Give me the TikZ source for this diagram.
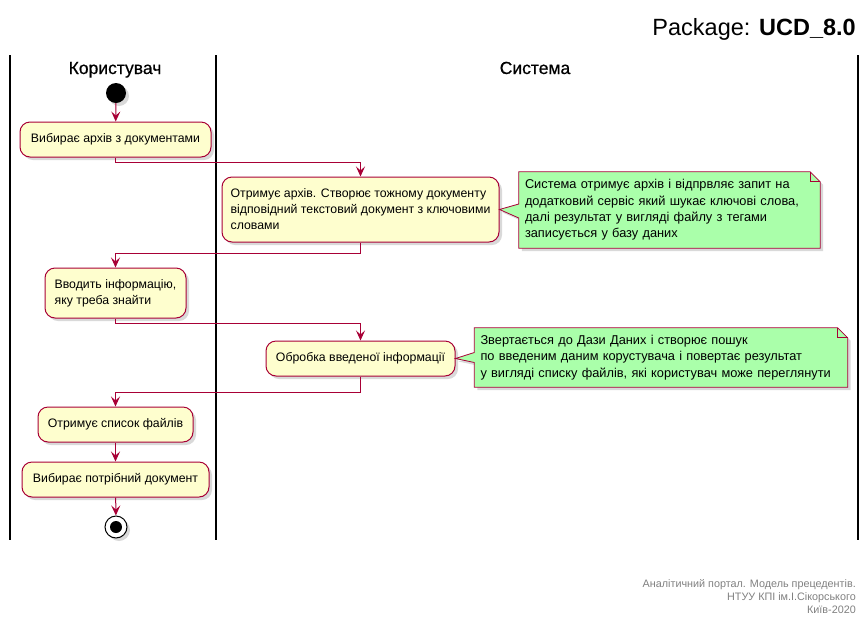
\documentclass[tikz,border=0pt]{standalone}
\usepackage{fontspec}
\setmainfont{Liberation Sans}
\newfontfamily\lanefont[FakeBold=0.6]{Liberation Sans}
\usetikzlibrary{arrows.meta,shadows,positioning,calc}

\definecolor{actfill}{HTML}{FEFECE}
\definecolor{actline}{HTML}{A80036}
\definecolor{notefill}{HTML}{AAFFAA}

\tikzset{
  shade/.style={drop shadow={opacity=0.3,shadow xshift=3pt,shadow yshift=-3pt}},
  act/.style={draw=actline,fill=actfill,rounded corners=10pt,line width=1pt,
    inner sep=0pt,font=\fontsize{12.3}{16}\selectfont,shade},
  flow/.style={color=actline,line width=1pt,-{Stealth[length=10pt,width=9pt,inset=4pt]}},
  note/.style={inner xsep=6pt,inner ysep=0pt,align=left,font=\fontsize{12.8}{16.3}\selectfont},
  notebox/.style={draw=actline,fill=notefill,line width=0.8pt,shade},
  lane/.style={line width=1.5pt},
  lanetitle/.style={anchor=base,font=\lanefont\fontsize{17.5}{20}\selectfont}
}

\begin{document}
\begin{tikzpicture}[x=1pt,y=-1pt]
            \useasboundingbox (0,0) rectangle (868,625);
            \node[anchor=base east,inner sep=0pt,font=\fontsize{23.5}{26}\selectfont] (title) at (856,35) {Package: \textbf{UCD\_8.0}};

            % swimlanes
            \draw[lane] (10,55) -- (10,540);
            \draw[lane] (216,55) -- (216,540);
            \draw[lane] (858,55) -- (858,540);
            \node[lanetitle] (user) at (115,74) {Користувач};
            \node[lanetitle] (system) at (535,74) {Система};

            \node[circle,fill=black,minimum size=20pt,inner sep=0pt,shade] (start) at (116,93) {};

            \node[act,minimum width=191pt,minimum height=35pt] (choose) at (115.5,139.5) {Вибирає архів з документами};
            \node[act,minimum width=277pt,minimum height=65pt,align=left] (archive) at (360.5,209.5)
              {Отримує архів. Створює тожному документу\\відповідний текстовий документ з ключовими\\словами};
            \node[act,minimum width=141pt,minimum height=50pt,align=left] (input) at (115.5,293)
              {Вводить інформацію,\\яку треба знайти};
            \node[act,minimum width=189pt,minimum height=35pt] (process) at (360.5,358.5) {Обробка введеної інформації};
            \node[act,minimum width=155pt,minimum height=35pt] (list) at (115.5,424.5) {Отримує список файлів};
            \node[act,minimum width=187pt,minimum height=35pt] (pick) at (115.5,479.5) {Вибирає потрібний документ};

            \node[circle,draw=black,fill=white,line width=1pt,minimum size=22pt,inner sep=0pt,shade] (stop) at (116,527) {};
            \node[circle,fill=black,minimum size=12pt,inner sep=0pt] (stopdot) at (stop) {};

            % notes
            \node[note,text width=289pt,minimum height=76pt] (note1) at (669.5,210) {};
            \draw[notebox] (note1.north west) -- ($(note1.north east)+(-10,0)$) -- ($(note1.north east)+(0,10)$)
              -- (note1.south east) -- (note1.south west) -- ($(note1.west)+(0,8)$) -- (archive.east)
              -- ($(note1.west)+(0,-6)$) -- cycle;
            \draw[color=actline,line width=0.8pt] ($(note1.north east)+(-10,0)$) |- ($(note1.north east)+(0,10)$);
            \node[note,text width=289pt,minimum height=76pt] (note1t) at (note1)
              {Система отримує архів і відпрвляє запит на\\додатковий сервіс який шукає ключові слова,\\далі результат у вигляді файлу з тегами\\записується у базу даних};

            \node[note,text width=361pt,minimum height=59pt] (note2) at (661,357.5) {};
            \draw[notebox] (note2.north west) -- ($(note2.north east)+(-10,0)$) -- ($(note2.north east)+(0,10)$)
              -- (note2.south east) -- (note2.south west) -- ($(note2.west)+(0,5)$) -- (process.east)
              -- ($(note2.west)+(0,-5)$) -- cycle;
            \draw[color=actline,line width=0.8pt] ($(note2.north east)+(-10,0)$) |- ($(note2.north east)+(0,10)$);
            \node[note,text width=361pt,minimum height=59pt] (note2t) at (note2)
              {Звертається до Дази Даних і створює пошук\\по введеним даним корустувача і повертає результат\\у вигляді списку файлів, які користувач може переглянути};

            % flow
            \draw[flow] (start) -- (choose);
            \draw[flow] (choose.south) -- ++(0,5) -| (archive.north);
            \draw[flow] (archive.south) -- ++(0,11) -| (input.north);
            \draw[flow] (input.south) -- ++(0,5) -| (process.north);
            \draw[flow] (process.south) -- ++(0,16) -| (list.north);
            \draw[flow] (list) -- (pick);
            \draw[flow] (pick) -- (stop);

            \node[anchor=north east,inner sep=0pt,align=right,text=gray,font=\fontsize{10.8}{13}\selectfont] (footer) at (856,579)
              {Аналітичний портал. Модель прецедентів.\\НТУУ КПІ ім.І.Сікорського\\Київ-2020};
\end{tikzpicture}
\end{document}
